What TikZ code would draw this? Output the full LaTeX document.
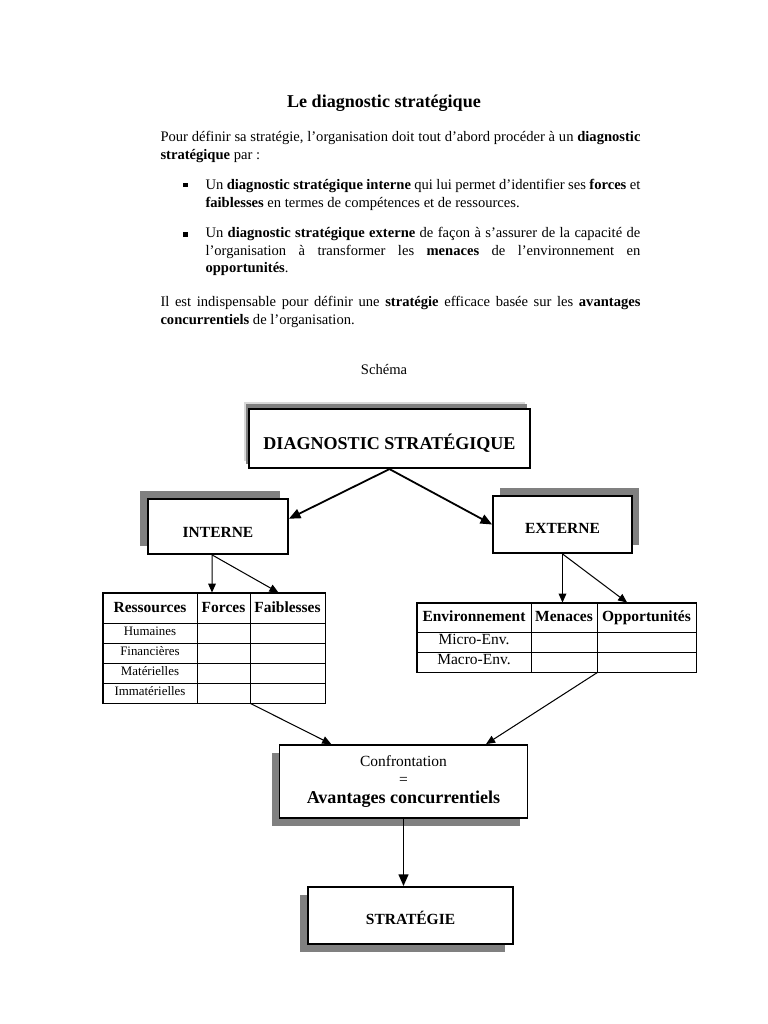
\documentclass[tikz,border=0pt]{standalone}
\usepackage{fontspec}
\setmainfont{Liberation Serif}
\usetikzlibrary{arrows.meta,shadows}
\hyphenpenalty=10000
\exhyphenpenalty=10000
\def\px{0.775pt}

\begin{document}
\begin{tikzpicture}[x=\px, y=-\px, thick,
    >={Triangle[length=7pt,width=6pt]},
    grand/.style = {-{Triangle[length=9pt,width=7.5pt]}, line width=1.4pt},
    para/.style = {anchor=north west, inner sep=0pt, align=justify, font=\fontsize{11.3}{13.4}\selectfont},
    box/.style = {draw, line width=1.4pt, fill=white, inner sep=0pt, text depth=0pt, font=\fontsize{12}{14}\bfseries},
    ombre/.style 2 args = {drop shadow={shadow xshift=#1, shadow yshift=#2, fill=black!50, opacity=1}},
    cell/.style = {draw, line width=0.7pt, inner sep=0pt, text height=0.7em, text depth=0.25em, font=\fontsize{10}{12}\selectfont},
    head/.style = {cell, text height=0.66em, text depth=0pt, font=\fontsize{12}{14}\bfseries},
    puce/.style = {fill=black, inner sep=0pt, minimum size=3.5pt}]
    \fill[white] (0,0) rectangle (768,1024);
    \useasboundingbox (0,0) rectangle (768,1024);

    % texte
    \node[font=\fontsize{14}{16}\bfseries, anchor=base] (titre) at (384,107) {Le diagnostic stratégique};
    \node[para, text width=372pt] (intro) at (160,131) {Pour définir sa stratégie, l’organisation doit tout d’abord procéder à un \textbf{diagnostic stratégique} par~:};
    \node[puce] (p1) at (185.5,185) {};
    \node[para, text width=337pt] (txtint) at (205,179) {Un \textbf{diagnostic stratégique interne} qui lui permet d’identifier ses \textbf{forces} et \textbf{faiblesses} en termes de compétences et de ressources.};
    \node[puce] (p2) at (185.5,234.5) {};
    \node[para, text width=337pt] (txtext) at (205,227) {Un \textbf{diagnostic stratégique externe} de façon à s’assurer de la capacité de\linebreak l’organisation à transformer les \textbf{menaces} de l’environnement en\linebreak \textbf{opportunités}.};
    \node[para, text width=372pt] (concl) at (160,296) {Il est indispensable pour définir une \textbf{stratégie} efficace basée sur les \textbf{avantages concurrentiels} de l’organisation.};
    \node[font=\fontsize{11.3}{13}\selectfont, anchor=base] (schema) at (384,374) {Schéma};

    % boites
    \node[box, minimum width=218pt, minimum height=46pt, text height=17.8pt, font=\fontsize{14}{16}\bfseries,
          drop shadow={shadow xshift=-4pt, shadow yshift=5.5pt, fill=black!15, opacity=1},
          drop shadow={shadow xshift=-2.5pt, shadow yshift=3.5pt, fill=black!50, opacity=1}]
          (diag) at (389.5,438.5) {DIAGNOSTIC STRATÉGIQUE};
    \node[box, ombre={-6.2pt}{6.2pt}, minimum width=108.5pt, minimum height=42.6pt, text height=16.6pt] (interne) at (218,526.5) {INTERNE};
    \node[box, ombre={5.5pt}{6.2pt}, minimum width=107.7pt, minimum height=44.2pt, text height=13.5pt] (externe) at (562.5,524.5) {EXTERNE};
    \node[box, ombre={-6.2pt}{-6.5pt}, minimum width=192.2pt, minimum height=56.6pt, text height=, text depth=, align=center, font=\fontsize{12}{14}\selectfont]
          (confr) at (403.5,781.5) {Confrontation\\=\\[1pt]{\fontsize{14}{16}\bfseries Avantages concurrentiels}};
    \node[box, ombre={-6.2pt}{-6.5pt}, minimum width=158.9pt, minimum height=44.2pt, text height=13.5pt] (strat) at (410.5,915.5) {STRATÉGIE};

    % tableau interne
    \node[head, minimum width=94*\px, minimum height=30*\px] (ress) at (150,608) {Ressources};
    \node[head, minimum width=53*\px, minimum height=30*\px] (forc) at (223.5,608) {Forces};
    \node[head, minimum width=75*\px, minimum height=30*\px] (faib) at (287.5,608) {Faiblesses};
    \foreach \res [count=\i] in {Humaines, Financières, Matérielles, Immatérielles} {
        \node[cell, minimum width=94*\px, minimum height=20*\px] (ress\i) at (150,613+20*\i) {\res};
        \node[cell, minimum width=53*\px, minimum height=20*\px] (forc\i) at (223.5,613+20*\i) {};
        \node[cell, minimum width=75*\px, minimum height=20*\px] (faib\i) at (287.5,613+20*\i) {};
    }
    \draw[line width=1.4pt] (ress.north west) rectangle (faib4.south east);

    % tableau externe
    \node[head, minimum width=114*\px, minimum height=29*\px] (envi) at (474,617.5) {Environnement};
    \node[head, minimum width=66*\px, minimum height=29*\px] (mena) at (564,617.5) {Menaces};
    \node[head, minimum width=99*\px, minimum height=29*\px] (oppo) at (646.5,617.5) {Opportunités};
    \foreach \env [count=\i] in {Micro-Env., Macro-Env.} {
        \node[cell, font=\fontsize{12}{14}\selectfont, minimum width=114*\px, minimum height=20*\px] (envi\i) at (474,622+20*\i) {\env};
        \node[cell, minimum width=66*\px, minimum height=20*\px] (mena\i) at (564,622+20*\i) {};
        \node[cell, minimum width=99*\px, minimum height=20*\px] (oppo\i) at (646.5,622+20*\i) {};
    }
    \draw[line width=1.4pt] (envi.north west) rectangle (oppo2.south east);

    % fleches
    \draw[grand] (diag.south) -- ([yshift=6pt]interne.east);
    \draw[grand] (diag.south) -- (externe.west);
    \draw[->, line width=0.8pt] ([xshift=-4.6pt]interne.south) -- ([xshift=-8.9pt]forc.north);
    \draw[->, line width=0.8pt] ([xshift=-4.6pt]interne.south) -- ([xshift=-7pt]faib.north);
    \draw[->, line width=0.8pt] (externe.south) -- (externe.south |- mena.north);
    \draw[->, line width=0.8pt] (externe.south) -- ([xshift=-15pt]oppo.north);
    \draw[->, line width=0.8pt] (forc4.south east) -- ([xshift=-56pt]confr.north);
    \draw[->, line width=0.8pt] (mena2.south east) -- ([xshift=64pt]confr.north);
    \draw[grand] (confr.south) -- (confr.south |- strat.north);
\end{tikzpicture}
\end{document}
